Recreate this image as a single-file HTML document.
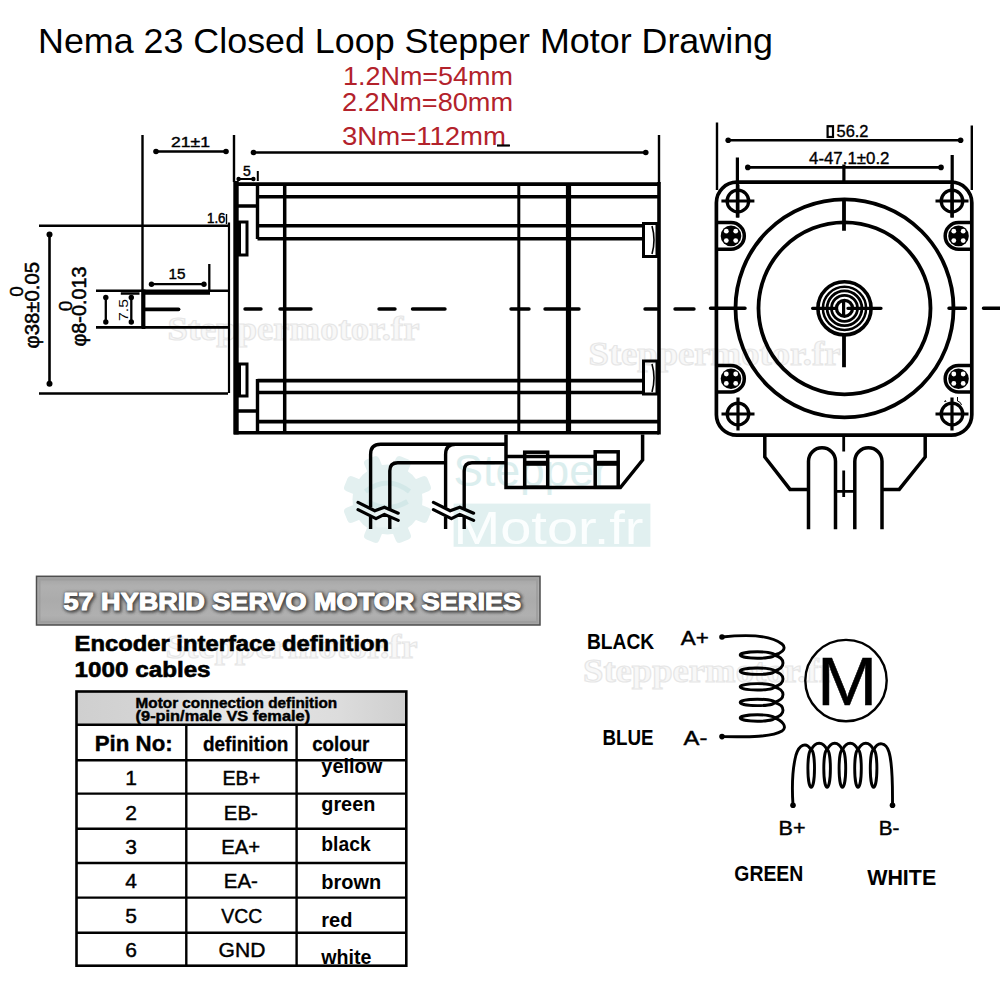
<!DOCTYPE html>
<html><head><meta charset="utf-8">
<style>
html,body{margin:0;padding:0;background:#fff;}
body{width:1000px;height:1000px;overflow:hidden;}
svg{display:block;}
text{font-family:"Liberation Sans",sans-serif;}
</style></head><body>
<svg width="1000" height="1000" viewBox="0 0 1000 1000">
<defs>
<linearGradient id="ban" x1="0" y1="0" x2="0" y2="1"><stop offset="0" stop-color="#a2a2a2"/><stop offset="0.2" stop-color="#b0b0b0"/><stop offset="0.5" stop-color="#ababab"/><stop offset="0.8" stop-color="#b0b0b0"/><stop offset="1" stop-color="#a2a2a2"/></linearGradient>
<linearGradient id="hdr" x1="0" y1="0" x2="1" y2="0">
<stop offset="0" stop-color="#cfcfcf"/><stop offset="0.2" stop-color="#d4d4d4"/><stop offset="0.45" stop-color="#e6e6e6"/><stop offset="0.8" stop-color="#dcdcdc"/><stop offset="1" stop-color="#cfcfcf"/>
</linearGradient>
<filter id="blur1" x="-5%" y="-30%" width="110%" height="160%"><feGaussianBlur stdDeviation="1.6"/></filter>
</defs>
<rect width="1000" height="1000" fill="#fff"/>
<g id="wm">
<g fill="#e3f0f0">
<circle cx="387.5" cy="499.5" r="35"/>
<rect x="379.5" y="454.5" width="16" height="18" rx="4" transform="rotate(22.5 387.5 499.5)"/>
<rect x="379.5" y="454.5" width="16" height="18" rx="4" transform="rotate(67.5 387.5 499.5)"/>
<rect x="379.5" y="454.5" width="16" height="18" rx="4" transform="rotate(112.5 387.5 499.5)"/>
<rect x="379.5" y="454.5" width="16" height="18" rx="4" transform="rotate(157.5 387.5 499.5)"/>
<rect x="379.5" y="454.5" width="16" height="18" rx="4" transform="rotate(202.5 387.5 499.5)"/>
<rect x="379.5" y="454.5" width="16" height="18" rx="4" transform="rotate(247.5 387.5 499.5)"/>
<rect x="379.5" y="454.5" width="16" height="18" rx="4" transform="rotate(292.5 387.5 499.5)"/>
<rect x="379.5" y="454.5" width="16" height="18" rx="4" transform="rotate(337.5 387.5 499.5)"/>
</g>
<path d="M365.5 491.5Q387.5 474.5 409.5 491.5 M367.5 501.5Q387.5 513.5 407.5 501.5" stroke="#d3e8e8" stroke-width="5" fill="none"/>
<rect x="375.5" y="509.5" width="24" height="18" rx="3" fill="#eaf4f4"/>
<rect x="453.6" y="503.6" width="196.8" height="43.2" fill="#e1f0f0"/>
<text x="453.6" y="485.5" font-size="45" fill="#dbeeee" textLength="155" lengthAdjust="spacingAndGlyphs">Stepper</text>
<text x="453.5" y="543.6" font-size="46" fill="#fbfefe" textLength="190" lengthAdjust="spacingAndGlyphs">Motor.fr</text>
<text x="167.5" y="340" font-weight="bold" font-size="34" fill="#f8f8f8" stroke="#e6e6e6" stroke-width="1.1" textLength="252" lengthAdjust="spacingAndGlyphs" style="font-family:'Liberation Serif',serif">Steppermotor.fr</text>
<text x="588.5" y="365" font-weight="bold" font-size="34" fill="#f8f8f8" stroke="#e6e6e6" stroke-width="1.1" textLength="252" lengthAdjust="spacingAndGlyphs" style="font-family:'Liberation Serif',serif">Steppermotor.fr</text>
<text x="583" y="681.6" font-weight="bold" font-size="34" fill="#f8f8f8" stroke="#e6e6e6" stroke-width="1.1" textLength="252" lengthAdjust="spacingAndGlyphs" style="font-family:'Liberation Serif',serif">Steppermotor.fr</text>
<text x="165.6" y="658" font-weight="bold" font-size="34" fill="#f8f8f8" stroke="#e6e6e6" stroke-width="1.1" textLength="252" lengthAdjust="spacingAndGlyphs" style="font-family:'Liberation Serif',serif">Steppermotor.fr</text>
</g>
<!-- Title -->
<text x="38" y="52.5" font-size="35" fill="#000" textLength="735" lengthAdjust="spacingAndGlyphs">Nema 23 Closed Loop Stepper Motor Drawing</text>
<g fill="#b3222b" font-size="25.5">
<text x="343" y="84.8" textLength="170" lengthAdjust="spacingAndGlyphs">1.2Nm=54mm</text>
<text x="342" y="110.8" textLength="171" lengthAdjust="spacingAndGlyphs">2.2Nm=80mm</text>
<text x="342" y="145" textLength="164" lengthAdjust="spacingAndGlyphs">3Nm=112mm</text>
</g>
<g id="side" stroke="#000" fill="none" stroke-linecap="butt">
<!-- extension lines -->
<path d="M142.5 135V328 M234 135V182 M659 135V184" stroke-width="2.4"/>
<!-- dim lines -->
<path d="M156 151.5H226 M253.5 152.5H645.75" stroke-width="2.6"/>
<g fill="#000" stroke="none">
<circle cx="156" cy="151.5" r="2.8"/><circle cx="226" cy="151.5" r="2.8"/>
<circle cx="253.5" cy="152.5" r="2.8"/><circle cx="645.75" cy="152.5" r="2.8"/>
</g>
<path d="M497 145.5H510" stroke-width="2.2"/>
<!-- 5 dim -->
<path d="M238.6 179H253.4 M257.8 171V181" stroke-width="2"/>
<g fill="#000" stroke="none"><circle cx="238.6" cy="179" r="2.2"/><circle cx="253.4" cy="179" r="2.2"/></g>
<!-- 1.6 -->
<path d="M226.5 214V224" stroke-width="1.4"/>
<!-- motor body -->
<path d="M236 181V434.5" stroke-width="5.4"/>
<path d="M234 184.1H659 M257.5 196.8H659 M257.5 225.8H642.5 M257.5 238.7H642.5" stroke-width="3.6"/>
<path d="M234 432.8H659 M257.5 421.6H659 M257.5 392.5H642.5 M257.5 380.6H642.5" stroke-width="3.6"/>
<path d="M257.5 184V239 M257.5 379V433 M238 206H257.5 M238 411H257.5" stroke-width="3.4"/>
<path d="M284.7 184V433" stroke-width="3.5"/>
<path d="M518.8 184V433" stroke-width="3"/>
<path d="M568.5 184V433" stroke-width="5.2"/>
<path d="M659 182V434.5" stroke-width="3.6"/>
<!-- tabs left -->
<rect x="239.5" y="222" width="7.5" height="33" stroke-width="3"/>
<rect x="239.5" y="364" width="7.5" height="32" stroke-width="3"/>
<!-- tabs right -->
<rect x="643.5" y="223.5" width="13.5" height="33" stroke-width="3"/>
<path d="M652 226Q656 240 652 254" stroke-width="1.6"/>
<rect x="643.5" y="361" width="13.5" height="33" stroke-width="3"/>
<path d="M652 364Q656 378 652 392" stroke-width="1.6"/>
<!-- pilot boss -->
<path d="M229 222.5V393" stroke-width="2.2"/>
<!-- horizontal extension lines -->
<path d="M39 225.8H228 M39 393.5H228" stroke-width="2.6"/>
<!-- shaft -->
<path d="M96 290.8H228 M96 327.4H228" stroke-width="2.6"/>
<path d="M143 292.8H210" stroke-width="4"/>
<path d="M143.5 289.5V329" stroke-width="3.8"/>
<path d="M145 309.3H178.5" stroke-width="3.8" stroke-linecap="round"/>
<!-- 15 dim -->
<path d="M151.5 284.2H204 M209.3 264V291" stroke-width="2.3"/>
<g fill="#000" stroke="none"><circle cx="151.5" cy="284.2" r="2.7"/><circle cx="204" cy="284.2" r="2.7"/></g>
<!-- 7.5 dim -->
<path d="M105.8 297.5V322 M131.3 297.5V322 M120.8 293.5H139.5" stroke-width="2.3"/>
<g fill="#000" stroke="none"><circle cx="105.8" cy="297.5" r="2.7"/><circle cx="105.8" cy="322" r="2.7"/><circle cx="131.3" cy="297.5" r="2.7"/><circle cx="131.3" cy="322" r="2.7"/></g>
<!-- phi38 dim -->
<path d="M49.5 234.4V383.8" stroke-width="2.6"/>
<g fill="#000" stroke="none"><circle cx="49.5" cy="234.4" r="3"/><circle cx="49.5" cy="383.8" r="3"/></g>
<!-- center dashes -->
<path d="M245 309H261 M280 309H311 M379 309H395 M412.5 309H445 M511 309H529 M545 309H579 M645 309H657 M675 309H694" stroke-width="3.4" stroke-linecap="round"/>
<!-- cables -->
<path d="M506 444.3H380.6Q370.6 444.3 370.6 454.3V507.5 M455.6 444.3Q445.6 444.3 445.6 454.3V507.5 M445.6 462.8H397.8Q389.8 462.8 389.8 470.8V510 M506 462.8H472Q464.2 462.8 464.2 470.8V510" stroke-width="3.4"/>
<path d="M370.6 517V529 M389.8 517V529 M445.6 517V529 M464.2 517V529" stroke-width="3.4"/>
<path d="M358 502.4L374.8 510.8L384.4 507.2L398.2 513.2 M358 509.6L376 518.6L384.4 514.4L398.2 520.4" stroke-width="3.2" stroke-linecap="round" stroke-linejoin="round"/>
<path d="M433.4 502.4L450.2 510.8L459.8 507.2L473.6 513.2 M433.4 509.6L451.4 518.6L459.8 514.4L473.6 520.4" stroke-width="3.2" stroke-linecap="round" stroke-linejoin="round"/>
<!-- connector -->
<path d="M506 434.5V487.5H620.4L642.6 460V434.5 M506 456.5H597" stroke-width="3.5"/>
<rect x="524.7" y="452.2" width="23" height="35" stroke-width="3.5"/>
<path d="M524.7 463.3H547.7" stroke-width="5"/>
<rect x="595.2" y="451.8" width="23" height="35.5" stroke-width="3.5"/>
<path d="M595.2 463.3H618.2" stroke-width="5"/>
<!-- dim texts -->
<g fill="#000" stroke="none">
<text x="171" y="147" font-size="14.5" textLength="39" lengthAdjust="spacingAndGlyphs" stroke="#000" stroke-width="0.4">21±1</text>
<text x="243" y="176" font-size="14" stroke="#000" stroke-width="0.4">5</text>
<text x="207" y="222.5" font-size="14.5" stroke="#000" stroke-width="0.5" textLength="18.5" lengthAdjust="spacingAndGlyphs">1.6</text>
<text x="168.5" y="279.3" font-size="15.5" textLength="17" lengthAdjust="spacingAndGlyphs" stroke="#000" stroke-width="0.4">15</text>
<text transform="translate(127.5 321) rotate(-90)" font-size="12.5" textLength="22" lengthAdjust="spacingAndGlyphs">7.5</text>
<text transform="translate(39 348.5) rotate(-90)" font-size="20" stroke="#000" stroke-width="0.5" textLength="86.5" lengthAdjust="spacingAndGlyphs">φ38±0.05</text>
<text transform="translate(22.5 296.7) rotate(-90)" font-size="19" stroke="#000" stroke-width="0.4">0</text>
<text transform="translate(86 346.5) rotate(-90)" font-size="19.5" stroke="#000" stroke-width="0.5" textLength="80" lengthAdjust="spacingAndGlyphs">φ8-0.013</text>
<text transform="translate(71.5 311.2) rotate(-90)" font-size="19" stroke="#000" stroke-width="0.4">0</text>
</g>
</g>
<g id="front" stroke="#000" fill="none">
<path d="M717 122.6V190 M971.8 125.4V190" stroke-width="2.4"/>
<path d="M728.2 140.2H960.6 M747.8 167.4H941" stroke-width="2.6"/>
<g fill="#000" stroke="none"><circle cx="728.2" cy="140.2" r="2.8"/><circle cx="960.6" cy="140.2" r="2.8"/><circle cx="747.8" cy="167.4" r="2.8"/><circle cx="941" cy="167.4" r="2.8"/></g>
<path d="M737.4 157.6V217.5 M952.2 155V217.5 M843.9 164.6V183" stroke-width="3.2"/>
<rect x="827.6" y="126.2" width="5.4" height="10.8" stroke-width="2.2"/>
<g fill="#000" stroke="#000" stroke-width="0.35"><text x="836.5" y="137.4" font-size="16.5" textLength="32" lengthAdjust="spacingAndGlyphs">56.2</text>
<text x="809" y="163.8" font-size="16.5" textLength="80.5" lengthAdjust="spacingAndGlyphs">4-47.1±0.2</text></g>
<rect x="716.4" y="182.2" width="255.4" height="253" rx="20.5" ry="20.5" stroke-width="3.7"/>
<circle cx="737.9" cy="201" r="10.8" stroke-width="3.3"/>
<path d="M721.4 201H754.4 M737.9 184.5V217.5" stroke-width="3.2"/>
<circle cx="952" cy="201" r="10.8" stroke-width="3.3"/>
<path d="M935.5 201H968.5 M952 184.5V217.5" stroke-width="3.2"/>
<circle cx="738" cy="414" r="10.8" stroke-width="3.3"/>
<path d="M721.5 414H754.5 M738 397.5V430.5" stroke-width="3.2"/>
<circle cx="952" cy="414" r="10.8" stroke-width="3.3"/>
<path d="M935.5 414H968.5 M952 397.5V430.5" stroke-width="3.2"/>
<path d="M716.4 222.6H731 A13.3 13.3 0 0 1 731 249.20000000000002 H716.4" stroke-width="3.5"/>
<circle cx="731" cy="235.9" r="10.3" fill="#000" stroke="none"/>
<circle cx="726.3" cy="231.2" r="2.4" fill="#fff" stroke="none"/>
<circle cx="726.3" cy="240.6" r="2.4" fill="#fff" stroke="none"/>
<circle cx="735.7" cy="231.2" r="2.4" fill="#fff" stroke="none"/>
<circle cx="735.7" cy="240.6" r="2.4" fill="#fff" stroke="none"/>
<path d="M971.8 222.6H958.5 A13.3 13.3 0 0 0 958.5 249.20000000000002 H971.8" stroke-width="3.5"/>
<circle cx="958.5" cy="235.9" r="10.3" fill="#000" stroke="none"/>
<circle cx="953.8" cy="231.2" r="2.4" fill="#fff" stroke="none"/>
<circle cx="953.8" cy="240.6" r="2.4" fill="#fff" stroke="none"/>
<circle cx="963.2" cy="231.2" r="2.4" fill="#fff" stroke="none"/>
<circle cx="963.2" cy="240.6" r="2.4" fill="#fff" stroke="none"/>
<path d="M716.4 365.4H731 A13.3 13.3 0 0 1 731 392.0 H716.4" stroke-width="3.5"/>
<circle cx="731" cy="378.7" r="10.3" fill="#000" stroke="none"/>
<circle cx="726.3" cy="374.0" r="2.4" fill="#fff" stroke="none"/>
<circle cx="726.3" cy="383.4" r="2.4" fill="#fff" stroke="none"/>
<circle cx="735.7" cy="374.0" r="2.4" fill="#fff" stroke="none"/>
<circle cx="735.7" cy="383.4" r="2.4" fill="#fff" stroke="none"/>
<path d="M971.8 365.4H958.5 A13.3 13.3 0 0 0 958.5 392.0 H971.8" stroke-width="3.5"/>
<circle cx="958.5" cy="378.7" r="10.3" fill="#000" stroke="none"/>
<circle cx="953.8" cy="374.0" r="2.4" fill="#fff" stroke="none"/>
<circle cx="953.8" cy="383.4" r="2.4" fill="#fff" stroke="none"/>
<circle cx="963.2" cy="374.0" r="2.4" fill="#fff" stroke="none"/>
<circle cx="963.2" cy="383.4" r="2.4" fill="#fff" stroke="none"/>
<circle cx="844.5" cy="308.3" r="109" stroke-width="3.8"/>
<circle cx="844.5" cy="308.3" r="86" stroke-width="3.8"/>
<path d="M844 200.8V230.7 M844 336V367.2" stroke-width="3.8"/>
<path d="M710.5 308.3H745 M949 308.3H965.5 M983.5 308.3H1000" stroke-width="3.5" stroke-linecap="round"/>
<circle cx="844.5" cy="308.3" r="26.6" stroke-width="3.6"/>
<circle cx="844.5" cy="308.3" r="21.6" stroke-width="2.5"/>
<circle cx="844.5" cy="308.3" r="17.4" stroke-width="2.8"/>
<circle cx="844.5" cy="308.3" r="13" stroke-width="2.8"/>
<circle cx="844.5" cy="308.3" r="8" stroke-width="3.3"/>
<path d="M812.6 308.3H835.5 M848 308.3H881" stroke-width="3.3" stroke-linecap="round"/>
<path d="M843.6 300.5V316" stroke-width="3.2"/>
<path d="M764.8 435V457L790 489.4H807 M925.2 435V457L899.2 489.4H883" stroke-width="3.5"/>
<path d="M808.5 529.2V461.3A13.5 13.5 0 0 1 835.5 461.3V529.2 M854.8 529.2V461.3A13.6 13.6 0 0 1 882 461.3V529.2" stroke-width="3.5"/>
<path d="M843.7 436V451.4 M843.7 470.4V497 M835.5 491.3H854.8" stroke-width="2.8"/>
<path id="scribble" d="M944.5 402Q945.5 399 946 402 M957.5 397V401Q961 402 961.5 405" stroke-width="1" />
</g>
<g id="bottom">
<rect x="36.5" y="576.3" width="503.5" height="48.7" fill="url(#ban)" stroke="#4e4e4e" stroke-width="1.5"/>
<rect x="39.5" y="579.5" width="497.5" height="42.5" fill="none" stroke="#9c9c9c" stroke-width="2" opacity="0.8"/>
<text x="64.5" y="610.5" font-size="23" font-weight="bold" fill="#333" stroke="#333" stroke-width="3.5" stroke-linejoin="round" opacity="0.8" filter="url(#blur1)" textLength="457.5" lengthAdjust="spacingAndGlyphs">57 HYBRID SERVO MOTOR SERIES</text>
<text x="63.5" y="609.8" font-size="23" font-weight="bold" fill="#fff" stroke="#fff" stroke-width="1.1" stroke-linejoin="round" textLength="457.5" lengthAdjust="spacingAndGlyphs">57 HYBRID SERVO MOTOR SERIES</text>
<text x="74.6" y="650.6" font-size="22" font-weight="bold" fill="#000" stroke="#000" stroke-width="0.6" textLength="314.5" lengthAdjust="spacingAndGlyphs">Encoder interface definition</text>
<text x="74.6" y="677.2" font-size="22" font-weight="bold" fill="#000" stroke="#000" stroke-width="0.6" textLength="136" lengthAdjust="spacingAndGlyphs">1000 cables</text>
<rect x="77" y="692" width="329" height="33" fill="url(#hdr)"/>
<g stroke="#000" fill="none">
<rect x="76.5" y="691.5" width="329.8" height="274.2" stroke-width="2.6"/>
<path d="M76.5 724.7H406.3 M76.5 760.3H406.3 M76.5 793.6H406.3 M76.5 828.7H406.3 M76.5 863H406.3 M76.5 897.6H406.3 M76.5 932.7H406.3" stroke-width="2.4"/>
<path d="M186.3 724.7V965.7 M296.6 724.7V965.7" stroke-width="2.4"/>
</g>
<g fill="#000">
<text x="135.6" y="707.8" font-size="14.8" font-weight="bold" stroke="#000" stroke-width="0.45" textLength="201.5" lengthAdjust="spacingAndGlyphs">Motor connection definition</text>
<text x="135.6" y="720.5" font-size="14.8" font-weight="bold" stroke="#000" stroke-width="0.45" textLength="174.5" lengthAdjust="spacingAndGlyphs">(9-pin/male VS female)</text>
<text x="94.7" y="751.2" font-size="22.5" font-weight="bold" stroke="#000" stroke-width="0.4" textLength="78" lengthAdjust="spacingAndGlyphs">Pin No:</text>
<text x="203" y="751.2" font-size="19.5" font-weight="bold" stroke="#000" stroke-width="0.3" textLength="85.3" lengthAdjust="spacingAndGlyphs">definition</text>
<text x="312.2" y="751.2" font-size="19.5" font-weight="bold" stroke="#000" stroke-width="0.3" textLength="57.2" lengthAdjust="spacingAndGlyphs">colour</text>
<text x="131.2" y="785" font-size="21" stroke="#000" stroke-width="0.45" text-anchor="middle">1</text>
<text x="222.5" y="785" font-size="21" stroke="#000" stroke-width="0.45" textLength="37.7" lengthAdjust="spacingAndGlyphs">EB+</text>
<text x="321.3" y="773.3" font-size="19.5" font-weight="bold" textLength="61" lengthAdjust="spacingAndGlyphs">yellow</text>
<text x="131.2" y="820" font-size="21" stroke="#000" stroke-width="0.45" text-anchor="middle">2</text>
<text x="223.8" y="820" font-size="21" stroke="#000" stroke-width="0.45" textLength="34" lengthAdjust="spacingAndGlyphs">EB-</text>
<text x="321.3" y="811" font-size="19.5" font-weight="bold" textLength="54" lengthAdjust="spacingAndGlyphs">green</text>
<text x="131.2" y="854" font-size="21" stroke="#000" stroke-width="0.45" text-anchor="middle">3</text>
<text x="221.2" y="854" font-size="21" stroke="#000" stroke-width="0.45" textLength="39" lengthAdjust="spacingAndGlyphs">EA+</text>
<text x="321.3" y="851.3" font-size="19.5" font-weight="bold" textLength="49.4" lengthAdjust="spacingAndGlyphs">black</text>
<text x="131.2" y="887.7" font-size="21" stroke="#000" stroke-width="0.45" text-anchor="middle">4</text>
<text x="223.8" y="887.7" font-size="21" stroke="#000" stroke-width="0.45" textLength="34" lengthAdjust="spacingAndGlyphs">EA-</text>
<text x="321.3" y="889" font-size="19.5" font-weight="bold" textLength="60" lengthAdjust="spacingAndGlyphs">brown</text>
<text x="131.2" y="922.8" font-size="21" stroke="#000" stroke-width="0.45" text-anchor="middle">5</text>
<text x="221.2" y="922.8" font-size="21" stroke="#000" stroke-width="0.45" textLength="41" lengthAdjust="spacingAndGlyphs">VCC</text>
<text x="321.3" y="926.7" font-size="19.5" font-weight="bold" textLength="31.2" lengthAdjust="spacingAndGlyphs">red</text>
<text x="131.2" y="956.6" font-size="21" stroke="#000" stroke-width="0.45" text-anchor="middle">6</text>
<text x="218.6" y="956.6" font-size="21" stroke="#000" stroke-width="0.45" textLength="46.8" lengthAdjust="spacingAndGlyphs">GND</text>
<text x="321.3" y="964.4" font-size="19.5" font-weight="bold" textLength="50.2" lengthAdjust="spacingAndGlyphs">white</text>
</g>
<g fill="#000" font-weight="bold">
<text x="587" y="648.7" font-size="22" textLength="67.2" lengthAdjust="spacingAndGlyphs">BLACK</text>
<text x="602.4" y="744.6" font-size="22" textLength="51.1" lengthAdjust="spacingAndGlyphs">BLUE</text>
<text x="734.3" y="880.8" font-size="22" textLength="69" lengthAdjust="spacingAndGlyphs">GREEN</text>
<text x="867.2" y="884.7" font-size="22" textLength="69" lengthAdjust="spacingAndGlyphs">WHITE</text>
</g>
<g fill="#000">
<text x="680.8" y="645.2" font-size="21" stroke="#000" stroke-width="0.45" textLength="28" lengthAdjust="spacingAndGlyphs">A+</text>
<text x="683.6" y="744.6" font-size="21" stroke="#000" stroke-width="0.45" textLength="23.8" lengthAdjust="spacingAndGlyphs">A-</text>
<text x="778.6" y="834.8" font-size="21" stroke="#000" stroke-width="0.45" textLength="27" lengthAdjust="spacingAndGlyphs">B+</text>
<text x="878.7" y="834.8" font-size="21" stroke="#000" stroke-width="0.45" textLength="20.7" lengthAdjust="spacingAndGlyphs">B-</text>
<text x="817" y="704.8" font-size="68" stroke="#000" stroke-width="0.5" textLength="60.3" lengthAdjust="spacingAndGlyphs">M</text>
</g>
<circle cx="846" cy="680.6" r="40.7" fill="none" stroke="#000" stroke-width="2.4"/>
<g stroke="#000" fill="none" stroke-width="2.9">
<ellipse cx="757.4" cy="655" rx="17.2" ry="3.2"/>
<ellipse cx="757.4" cy="671.2" rx="17.2" ry="3.2"/>
<ellipse cx="757.4" cy="686.8" rx="17.2" ry="3.2"/>
<ellipse cx="757.4" cy="702.4" rx="17.2" ry="3.2"/>
<ellipse cx="757.4" cy="718" rx="17.2" ry="3.2"/>
<path d="M774 655C786 658 786 668.2 774 671.2"/>
<path d="M774 671.2C786 674.2 786 683.8 774 686.8"/>
<path d="M774 686.8C786 689.8 786 699.4 774 702.4"/>
<path d="M774 702.4C786 705.4 786 715 774 718"/>
<path d="M722 637C750 634 772 636 782 644C788 649 780 654 774 655"/>
<path d="M774 718C782 720 788 727 782 731C772 737 750 737 722 736.6"/>
<ellipse cx="811.2" cy="768.4" rx="3.3" ry="18.8"/>
<ellipse cx="827.1" cy="768.4" rx="3.3" ry="18.8"/>
<ellipse cx="842.4" cy="768.4" rx="3.3" ry="18.8"/>
<ellipse cx="858" cy="768.4" rx="3.3" ry="18.8"/>
<ellipse cx="873.6" cy="768.4" rx="3.3" ry="18.8"/>
<path d="M811.2 750C815.2 741 823.1 741 827.1 750"/>
<path d="M827.1 750C831.1 741 838.4 741 842.4 750"/>
<path d="M842.4 750C846.4 741 854 741 858 750"/>
<path d="M858 750C862 741 869.6 741 873.6 750"/>
<path d="M793 805.2C792 790 792 770 796 755C799 745 806 741 811.2 750"/>
<path d="M873.6 750C878 741 886 742 889 752C893 765 892.5 790 892.5 805.2"/>
</g>
<g fill="#000"><circle cx="722" cy="637" r="2.8"/><circle cx="722" cy="736.6" r="2.8"/><circle cx="793" cy="805.2" r="2.8"/><circle cx="892.5" cy="805.2" r="2.8"/></g>
</g>
</svg>
</body></html>
